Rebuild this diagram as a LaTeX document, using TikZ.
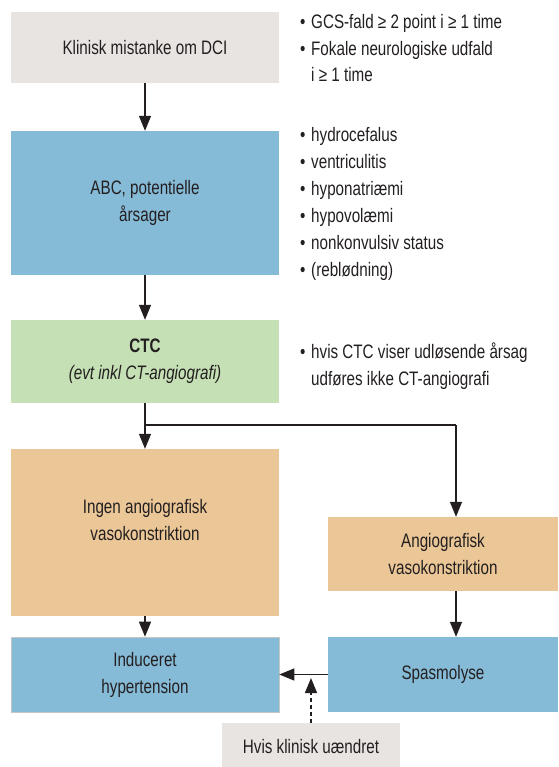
\documentclass[tikz,border=0pt]{standalone}
\usepackage{fontspec}
\setmainfont[FakeStretch=0.78]{Liberation Sans}
\usetikzlibrary{arrows.meta}
\definecolor{boxgrey}{HTML}{E8E4E1}
\definecolor{boxblue}{HTML}{86BBD7}
\definecolor{boxgreen}{HTML}{C5E0B4}
\definecolor{boxorange}{HTML}{EBC797}
\definecolor{txt}{HTML}{231F20}
\begin{document}
\begin{tikzpicture}[x=1pt,y=-1pt,
  every node/.style={text=txt},
  box/.style={rectangle, inner sep=0pt, align=center,
    font=\fontsize{19.5}{27}\selectfont},
  btxt/.style={inner sep=0pt, anchor=base west, font=\fontsize{19.5}{27}\selectfont},
  arr/.style={draw=txt, line width=1.3pt, -{Triangle[length=15pt,width=12pt]}},
  conn/.style={draw=txt, line width=1.3pt},
  dasharr/.style={draw=txt, line width=1.3pt, dash pattern=on 4pt off 3pt,
    -{Triangle[length=15pt,width=12pt]}}]
\useasboundingbox (0,0) rectangle (558,767);
% boxes
\node[box, fill=boxgrey, minimum width=268pt, minimum height=71pt] (b1) at (145,47.5) {Klinisk mistanke om DCI};
\node[box, fill=boxblue, minimum width=268pt, minimum height=144pt] (b2) at (145,203) {ABC, potentielle\\årsager};
\node[box, fill=boxgreen, minimum width=268pt, minimum height=83pt] (b3) at (145,361.5) {\textbf{CTC}\\\textit{(evt inkl CT-angiografi)}};
\node[box, fill=boxorange, minimum width=268pt, minimum height=167pt] (b4) at (145,532.5) {};
\node[box] (b4t) at (145,520.5) {Ingen angiografisk\\vasokonstriktion};
\node[box, fill=boxorange, minimum width=230pt, minimum height=74pt] (b5) at (443,554) {Angiografisk\\vasokonstriktion};
\node[box, fill=boxblue, draw=gray!45, line width=0.6pt, minimum width=268pt, minimum height=75pt] (b6) at (145,674.5) {Induceret\\hypertension};
\node[box, fill=boxblue, minimum width=230pt, minimum height=75pt] (b7) at (443,674.5) {Spasmolyse};
\node[box, fill=boxgrey, minimum width=178pt, minimum height=48pt] (b8) at (311,747) {Hvis klinisk uændret};
% bullet texts
\newcommand{\bul}{\makebox[11pt][l]{•}}
\node[btxt] (t1) at (300,28.5) {\bul GCS-fald ≥ 2 point i ≥ 1 time};
\node[btxt] (t2) at (300,55.5) {\bul Fokale neurologiske udfald};
\node[btxt] (t3) at (311,81.5) {i ≥ 1 time};
\node[btxt] (t4) at (300,141.5) {\bul hydrocefalus};
\node[btxt] (t5) at (300,168.5) {\bul ventriculitis};
\node[btxt] (t6) at (300,195.5) {\bul hyponatriæmi};
\node[btxt] (t7) at (300,222.5) {\bul hypovolæmi};
\node[btxt] (t8) at (300,249.5) {\bul nonkonvulsiv status};
\node[btxt] (t9) at (300,276.5) {\bul (reblødning)};
\node[btxt] (t10) at (300,358.5) {\bul hvis CTC viser udløsende årsag};
\node[btxt] (t11) at (311,385.5) {udføres ikke CT-angiografi};
% connectors
\draw[arr] (b1) -- (b2);
\draw[arr] (b2) -- (b3);
\draw[arr] (b3) -- (b4);
\coordinate (j) at (145,425);
\coordinate (r) at (456,425);
\draw[conn] (j) -- (r);
\draw[arr] (r) -- (r |- b5.north);
\draw[arr] (b4) -- (b6);
\draw[arr] (r |- b5.south) -- (r |- b7.north);
\draw[arr] (b7.west) -- (b6.east);
\coordinate (h) at (311,678);
\draw[dasharr] (b8.north -| h) -- (h);
\end{tikzpicture}
\end{document}
